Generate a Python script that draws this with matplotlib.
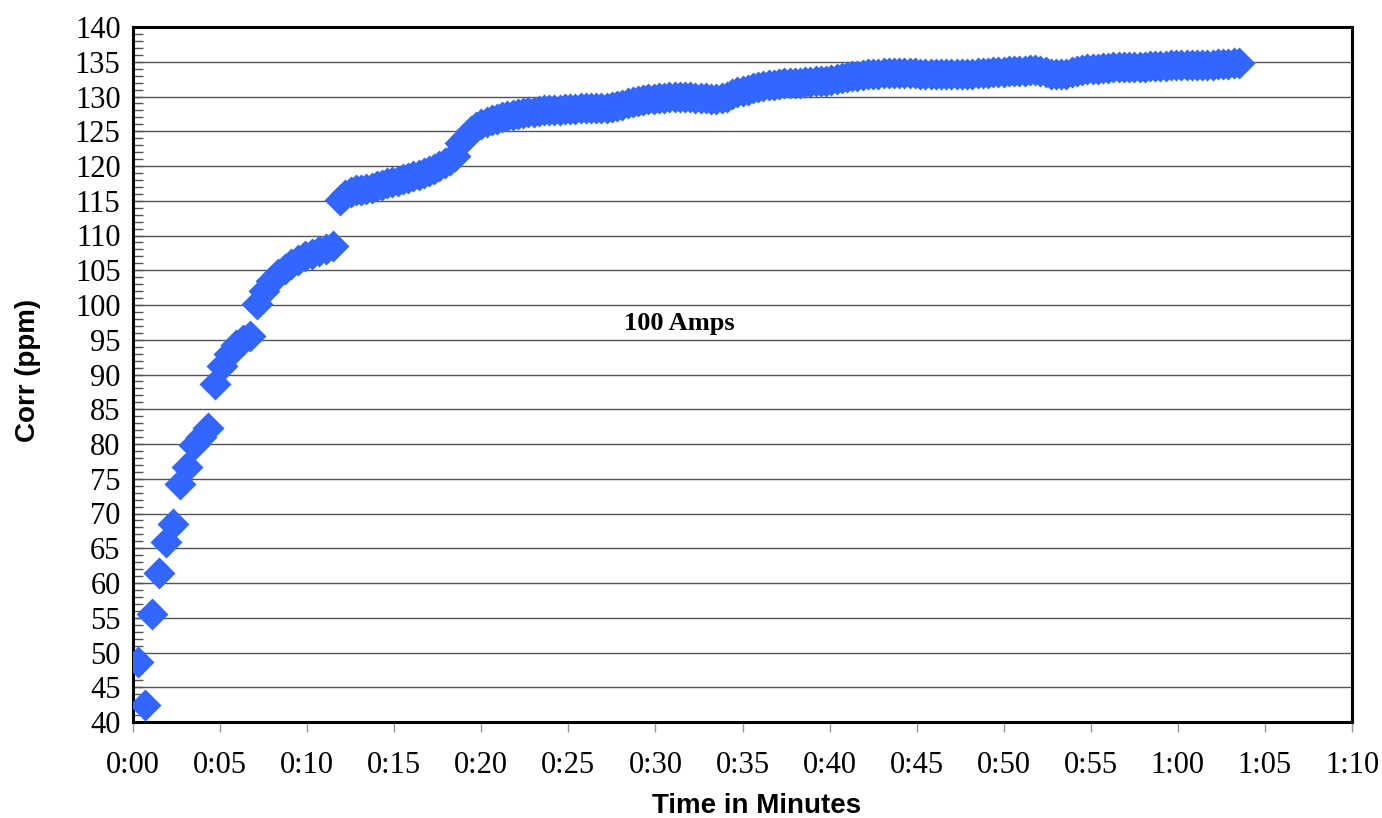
import numpy as np
import matplotlib
matplotlib.use('Agg')
import matplotlib.pyplot as plt
from matplotlib.ticker import MultipleLocator, FuncFormatter

# early readings, every ~24 s (minutes, ppm)
t_early = [0.3, 0.7, 1.1, 1.5, 1.9, 2.3, 2.7, 3.1, 3.5, 3.9,
           4.3, 4.7, 5.1, 5.5, 5.9, 6.3, 6.7, 7.1, 7.5, 7.9,
           8.3, 8.7, 9.1, 9.5, 9.9, 10.3, 10.7, 11.1, 11.5, 11.9]
corr_early = [48.7, 42.4, 55.6, 61.5, 65.9, 68.5, 74.3, 76.7, 79.9, 81.0,
              82.3, 88.6, 91.2, 93.0, 94.2, 95.0, 95.6, 100.2, 102.0, 103.4,
              104.4, 105.2, 105.9, 106.5, 107.0, 107.4, 107.8, 108.1, 108.5, 115.1]

# later readings, every ~18 s starting at 12.2 min
t_late_start = 12.2
t_late_step = 0.3
corr_late = [
    115.8, 116.3, 116.5, 116.6, 116.7, 116.9, 117.1, 117.3, 117.5, 117.7,
    117.9, 118.1, 118.3, 118.5, 118.7, 119.0, 119.3, 119.6, 120.0, 120.4,
    120.9, 121.4, 123.3, 124.2, 125.0, 125.6, 126.0, 126.3, 126.6, 126.8,
    127.0, 127.2, 127.4, 127.5, 127.6, 127.7, 127.8, 127.9, 128.0, 128.0,
    128.1, 128.1, 128.2, 128.2, 128.2, 128.3, 128.3, 128.3, 128.3, 128.4,
    128.4, 128.5, 128.6, 128.8, 129.0, 129.2, 129.4, 129.5, 129.6, 129.7,
    129.8, 129.8, 129.9, 129.9, 129.9, 129.9, 129.9, 129.8, 129.8, 129.8,
    129.7, 129.7, 129.8, 130.0, 130.3, 130.6, 130.8, 131.0, 131.2, 131.4,
    131.5, 131.6, 131.7, 131.8, 131.9, 131.9, 132.0, 132.0, 132.1, 132.1,
    132.2, 132.2, 132.3, 132.4, 132.5, 132.6, 132.8, 132.9, 133.0, 133.1,
    133.2, 133.3, 133.3, 133.4, 133.4, 133.4, 133.4, 133.4, 133.4, 133.4,
    133.3, 133.3, 133.3, 133.2, 133.2, 133.2, 133.2, 133.2, 133.3, 133.3,
    133.3, 133.4, 133.4, 133.4, 133.5, 133.5, 133.5, 133.6, 133.6, 133.7,
    133.7, 133.8, 133.8, 133.7, 133.5, 133.3, 133.2, 133.2, 133.3, 133.5,
    133.6, 133.8, 133.9, 134.0, 134.0, 134.1, 134.1, 134.2, 134.2, 134.2,
    134.2, 134.3, 134.3, 134.3, 134.4, 134.4, 134.4, 134.4, 134.5, 134.5,
    134.5, 134.5, 134.5, 134.6, 134.6, 134.6, 134.6, 134.7, 134.7, 134.7,
    134.8, 134.8,
]
t_late = t_late_start + t_late_step * np.arange(len(corr_late))

t_all = np.concatenate([t_early, t_late])
corr_all = np.concatenate([corr_early, corr_late])

W, H = 1382, 818
fig = plt.figure(figsize=(W / 100, H / 100), dpi=100)
ax = fig.add_axes([133 / W, 1 - 722 / H, (1352 - 133) / W, (722 - 27) / H])

ax.set_xlim(0, 70)
ax.set_ylim(40, 140)

# gridlines
ax.yaxis.set_major_locator(MultipleLocator(5))
ax.yaxis.set_minor_locator(MultipleLocator(1))
ax.xaxis.set_major_locator(MultipleLocator(5))
ax.grid(axis='y', which='major', color='#555555', lw=1.0)
ax.set_axisbelow(True)

ax.plot(t_all, corr_all, linestyle='none', marker='D', ms=16.3,
        color='#3366FF', mec='none', zorder=3)

for s in ax.spines.values():
    s.set_linewidth(2.2)
    s.set_color('black')

ax.xaxis.set_major_formatter(FuncFormatter(lambda v, p: '%d:%02d' % (int(v) // 60, int(v) % 60)))

serif = 'Liberation Serif'
ax.tick_params(axis='y', which='both', direction='in', left=True, color='#555555')
ax.tick_params(axis='y', which='major', length=7, width=1, pad=9)
ax.tick_params(axis='y', which='minor', length=7, width=1)
ax.tick_params(axis='x', which='major', direction='out', length=7, width=1,
               color='#999999', pad=14)
for lab in ax.get_xticklabels() + ax.get_yticklabels():
    lab.set_fontfamily(serif)
    lab.set_fontsize(22)

ax.set_xlabel('Time in Minutes', fontfamily='Liberation Sans', fontweight='bold',
              fontsize=20)
ax.set_ylabel('Corr (ppm)', fontfamily='Liberation Sans', fontweight='bold',
              fontsize=20)
ax.xaxis.label.set_va('center')
ax.yaxis.label.set_va('center')
ax.xaxis.set_label_coords((757 - 133) / 1219, (722 - 806) / 695)
ax.yaxis.set_label_coords((28 - 133) / 1219, (722 - 370) / 695)

ax.text(31.4, 97.4, '100 Amps', fontfamily=serif, fontweight='bold',
        fontsize=19, ha='center', va='center')

fig.savefig('out.png', dpi=100)
